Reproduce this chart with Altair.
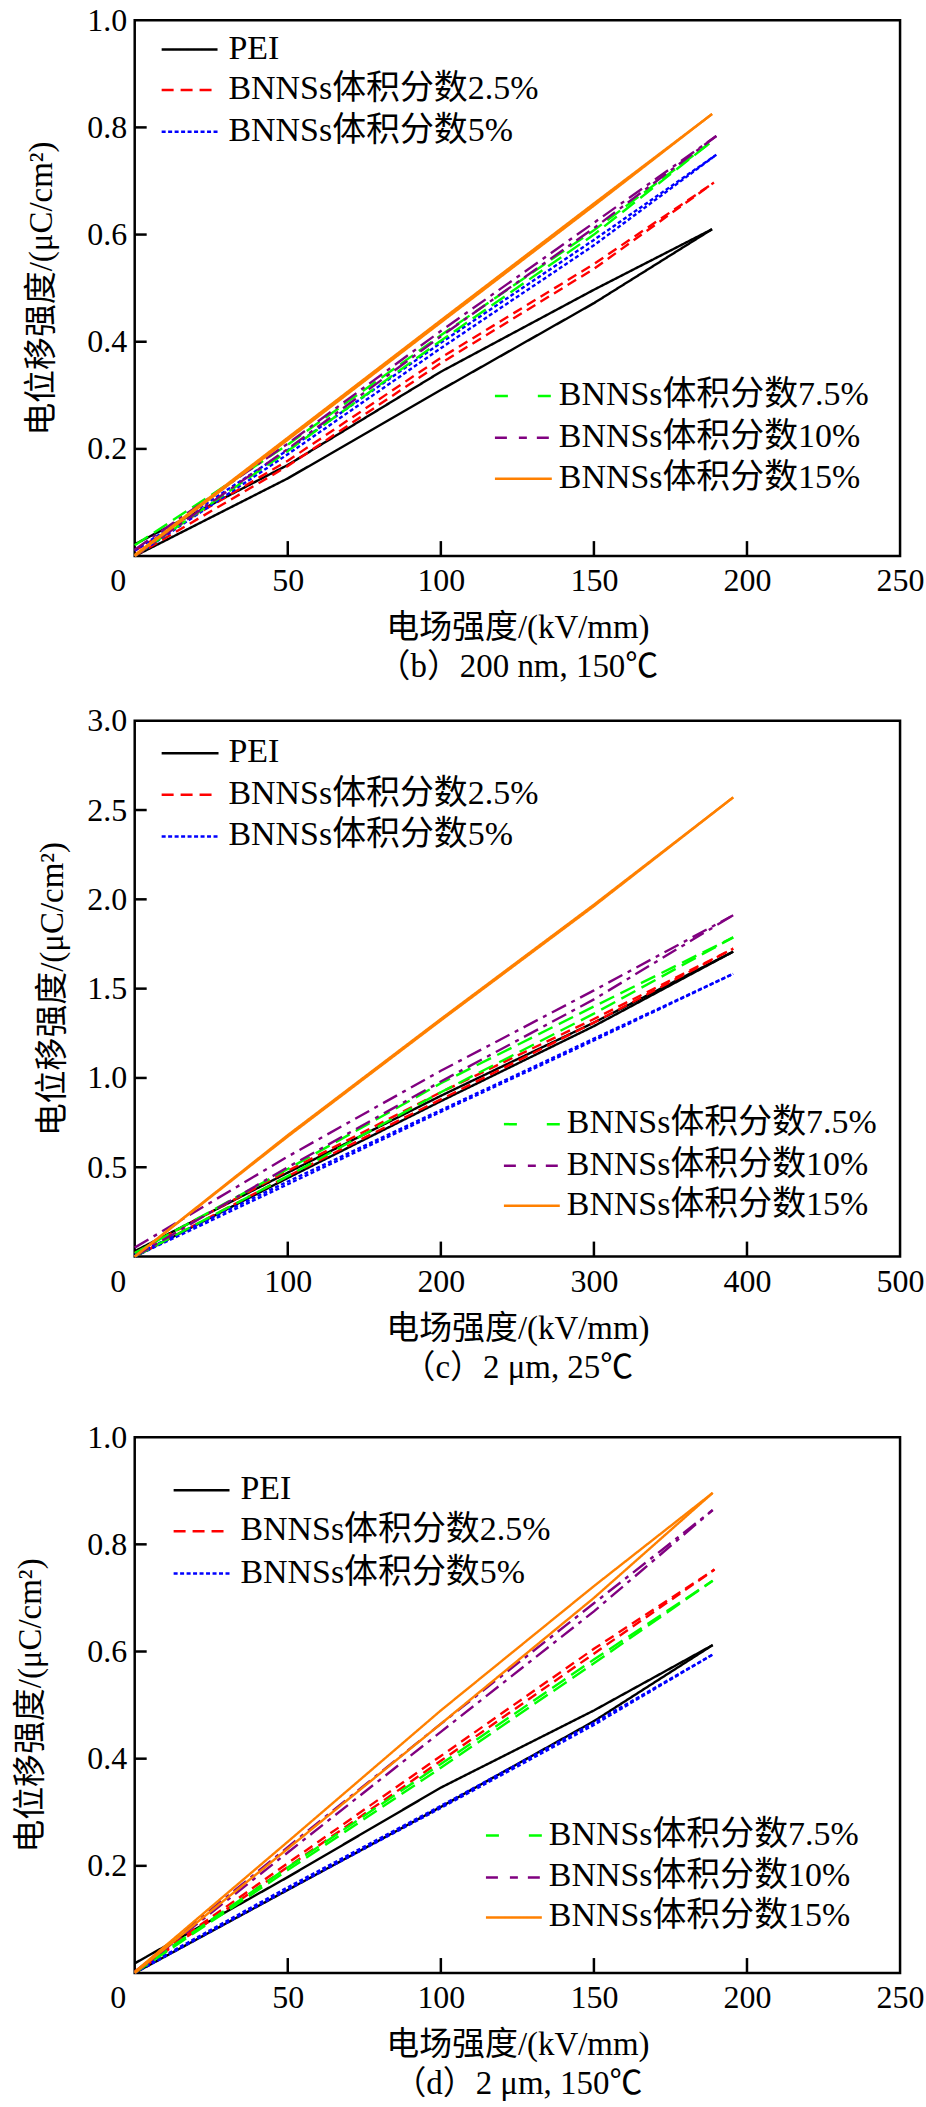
import altair as alt
import pandas as pd

FONT = "Liberation Serif, Noto Sans CJK SC"

SERIES = ["PEI", "BNNSs体积分数2.5%", "BNNSs体积分数5%",
          "BNNSs体积分数7.5%", "BNNSs体积分数10%", "BNNSs体积分数15%"]
COLORS = ["#000000", "#FF0000", "#0000FF", "#00FF00", "#800080", "#FF8000"]
LINE_DASH = [[1, 0], [10, 6], [4, 2.5], [16, 7], [16, 6, 4, 6], [1, 0]]
LEGEND_DASH = [[1, 0], [12, 7], [4, 2.5], [13, 30], [12, 12, 8, 10], [1, 0]]

Y_TITLE = "电位移强度/(μC/cm²)"
X_TITLE = "电场强度/(kV/mm)"

# ---------- panel (b) 200 nm, 150 ℃ ----------
B_CAPTION = "（b）200 nm, 150℃"
B_X_TICKS = [0, 50, 100, 150, 200, 250]
B_Y_TICKS = [0.0, 0.2, 0.4, 0.6, 0.8, 1.0]
B_GRID = [0, 50, 100, 150]
B_EMAX = [188.6, 189.2, 190.0, 187.7, 190.0, 188.6]
B_PEI_UP = [0.022, 0.170, 0.344, 0.497, 0.610]
B_PEI_DN = [0.000, 0.145, 0.310, 0.472, 0.610]
B_25_UP = [0.010, 0.178, 0.370, 0.545, 0.697]
B_25_DN = [0.000, 0.168, 0.360, 0.536, 0.697]
B_5_UP = [0.010, 0.198, 0.398, 0.590, 0.749]
B_5_DN = [0.000, 0.190, 0.388, 0.580, 0.749]
B_75_UP = [0.020, 0.208, 0.412, 0.608, 0.770]
B_75_DN = [0.000, 0.196, 0.402, 0.600, 0.770]
B_10_UP = [0.012, 0.210, 0.420, 0.622, 0.784]
B_10_DN = [0.000, 0.200, 0.410, 0.612, 0.784]
B_15_UP = [0.002, 0.221, 0.440, 0.658, 0.825]
B_15_DN = [0.000, 0.217, 0.436, 0.654, 0.825]

# ---------- panel (c) 2 μm, 25 ℃ ----------
C_CAPTION = "（c）2 μm, 25℃"
C_X_TICKS = [0, 100, 200, 300, 400, 500]
C_Y_TICKS = [0.0, 0.5, 1.0, 1.5, 2.0, 2.5, 3.0]
C_GRID = [0, 100, 200, 300]
C_EMAX = [391, 391, 391, 391, 391, 391]
C_PEI_UP = [0.030, 0.470, 0.900, 1.310, 1.707]
C_PEI_DN = [0.000, 0.440, 0.870, 1.290, 1.707]
C_25_UP = [0.020, 0.480, 0.920, 1.330, 1.724]
C_25_DN = [0.000, 0.450, 0.880, 1.310, 1.724]
C_5_UP = [0.010, 0.420, 0.820, 1.220, 1.583]
C_5_DN = [0.000, 0.405, 0.810, 1.210, 1.583]
C_75_UP = [0.020, 0.490, 0.970, 1.400, 1.787]
C_75_DN = [0.000, 0.450, 0.920, 1.360, 1.787]
C_10_UP = [0.050, 0.560, 1.040, 1.490, 1.911]
C_10_DN = [0.000, 0.500, 0.980, 1.440, 1.911]
C_15_UP = [0.000, 0.680, 1.330, 1.970, 2.571]
C_15_DN = [0.000, 0.672, 1.322, 1.962, 2.571]

# ---------- panel (d) 2 μm, 150 ℃ ----------
D_CAPTION = "（d）2 μm, 150℃"
D_X_TICKS = [0, 50, 100, 150, 200, 250]
D_Y_TICKS = [0.0, 0.2, 0.4, 0.6, 0.8, 1.0]
D_GRID = [0, 50, 100, 150]
D_EMAX = [188.8, 189.4, 189.0, 188.8, 188.8, 188.8]
D_PEI_UP = [0.018, 0.179, 0.346, 0.490, 0.612]
D_PEI_DN = [0.000, 0.155, 0.310, 0.470, 0.612]
D_25_UP = [0.003, 0.205, 0.405, 0.605, 0.753]
D_25_DN = [0.000, 0.198, 0.396, 0.596, 0.753]
D_5_UP = [0.002, 0.160, 0.312, 0.467, 0.595]
D_5_DN = [0.000, 0.156, 0.308, 0.463, 0.595]
D_75_UP = [0.002, 0.197, 0.390, 0.585, 0.732]
D_75_DN = [0.000, 0.192, 0.383, 0.578, 0.732]
D_10_UP = [0.002, 0.235, 0.465, 0.690, 0.864]
D_10_DN = [0.000, 0.225, 0.450, 0.675, 0.864]
D_15_UP = [0.002, 0.245, 0.490, 0.722, 0.896]
D_15_DN = [0.000, 0.232, 0.465, 0.700, 0.896]

# ---------- layout (pixels) ----------
PLOT_W = 767
PLOT_H = 537
# legend layout relative to each plot's top-left corner
# (symbol x-start, symbol x-end, text x, [baselines of 3 rows])
B_LEG1 = (27, 83, 94, [38.4, 79.0, 120.7])
B_LEG2 = (361, 418, 425, [385.7, 427.4, 468.4])
C_LEG1 = (27, 84, 94, [41.7, 83.3, 125.0])
C_LEG2 = (370, 426, 433, [413.3, 455.0, 495.0])
D_LEG1 = (39, 95, 106, [62.3, 103.3, 145.7])
D_LEG2 = (352, 408, 415, [408.3, 450.3, 490.3])


def build_lines(grid, emax, ups, dns):
    rows = []
    for s, em, up, dn in zip(SERIES, emax, ups, dns):
        xs = list(grid) + [em]
        for br, ys in (("up", up), ("dn", dn)):
            for e, d in zip(xs, ys):
                rows.append({"E": e, "D": d, "series": s, "branch": s + br})
    return pd.DataFrame(rows)


def build_legend(leg1, leg2):
    rows = []
    for (x1, x2, tx, bls), names in ((leg1, SERIES[:3]), (leg2, SERIES[3:])):
        for name, bl in zip(names, bls):
            rows.append({"series": name, "lx1": x1, "lx2": x2,
                         "ly": bl - 9, "tx": tx, "ty": bl})
    return pd.DataFrame(rows)


color_scale = alt.Scale(domain=SERIES, range=COLORS)
dash_scale = alt.Scale(domain=SERIES, range=LINE_DASH)
leg_dash_scale = alt.Scale(domain=SERIES, range=LEGEND_DASH)


def panel(df, leg, xdom, xticks, ydom, yticks, caption, ytitle_pad, left, top):
    xs = alt.Scale(domain=xdom, nice=False, zero=False)
    ys = alt.Scale(domain=ydom, nice=False, zero=False)
    xaxis = alt.Axis(values=xticks, format="d", tickSize=0, domain=False, grid=False,
                     labelFont=FONT, labelFontSize=32, labelPadding=10, labelColor="black",
                     labelFlush=False, labelOverlap=False,
                     labelOffset={"condition": {"test": "datum.value === 0", "value": -17}, "value": 0},
                     title=[X_TITLE, caption], titleFont=FONT, titleFontSize=33,
                     titleFontWeight="normal", titleColor="black", titleLineHeight=39,
                     titlePadding=15)
    yaxis = alt.Axis(values=yticks, format=".1f", tickSize=0, domain=False, grid=False,
                     labelExpr="datum.value === 0 ? '' : datum.label",
                     labelFont=FONT, labelFontSize=32, labelPadding=8, labelColor="black",
                     labelFlush=False, labelOverlap=False,
                     title=Y_TITLE, titleFont=FONT, titleFontSize=33,
                     titleFontWeight="normal", titleColor="black", titlePadding=ytitle_pad)

    lines = alt.Chart(df).mark_line(strokeWidth=2.4).encode(
        x=alt.X("E:Q", scale=xs, axis=xaxis),
        y=alt.Y("D:Q", scale=ys, axis=yaxis),
        color=alt.Color("series:N", scale=color_scale, legend=None),
        strokeDash=alt.StrokeDash("series:N", scale=dash_scale, legend=None),
        detail="branch:N",
    )
    xt = alt.Chart(pd.DataFrame({"E": xticks[1:-1]})).mark_rule(
        color="black", strokeWidth=2.5).encode(
        x=alt.X("E:Q", scale=xs, axis=xaxis),
        y=alt.value(PLOT_H), y2=alt.value(PLOT_H - 15))
    yt = alt.Chart(pd.DataFrame({"D": yticks[1:-1]})).mark_rule(
        color="black", strokeWidth=2.5).encode(
        y=alt.Y("D:Q", scale=ys, axis=yaxis),
        x=alt.value(0), x2=alt.value(12))
    leg_rule = alt.Chart(leg).mark_rule(strokeWidth=2.5).encode(
        x=alt.X("lx1:Q", scale=None), x2="lx2:Q",
        y=alt.Y("ly:Q", scale=None),
        color=alt.Color("series:N", scale=color_scale, legend=None),
        strokeDash=alt.StrokeDash("series:N", scale=leg_dash_scale, legend=None),
    )
    leg_text = alt.Chart(leg).mark_text(
        align="left", baseline="alphabetic", font=FONT, fontSize=34, color="black").encode(
        x=alt.X("tx:Q", scale=None), y=alt.Y("ty:Q", scale=None), text="series:N")
    marker = alt.Chart(pd.DataFrame({"m": [0]})).mark_rule(
        stroke="white", strokeOpacity=0, strokeWidth=0.5).encode(
        x=alt.value(-left), x2=alt.value(-left), y=alt.value(-top), y2=alt.value(-top))
    return alt.layer(lines, xt, yt, leg_rule, leg_text, marker).resolve_scale(
        strokeDash="independent").properties(width=PLOT_W, height=PLOT_H)


pb = panel(build_lines(B_GRID, B_EMAX,
                       [B_PEI_UP, B_25_UP, B_5_UP, B_75_UP, B_10_UP, B_15_UP],
                       [B_PEI_DN, B_25_DN, B_5_DN, B_75_DN, B_10_DN, B_15_DN]),
           build_legend(B_LEG1, B_LEG2), [0, 250], B_X_TICKS, [0, 1.0], B_Y_TICKS,
           B_CAPTION, 28, 133, 0)
pc = panel(build_lines(C_GRID, C_EMAX,
                       [C_PEI_UP, C_25_UP, C_5_UP, C_75_UP, C_10_UP, C_15_UP],
                       [C_PEI_DN, C_25_DN, C_5_DN, C_75_DN, C_10_DN, C_15_DN]),
           build_legend(C_LEG1, C_LEG2), [0, 500], C_X_TICKS, [0, 3.0], C_Y_TICKS,
           C_CAPTION, 17, 121, 0)
pd_ = panel(build_lines(D_GRID, D_EMAX,
                        [D_PEI_UP, D_25_UP, D_5_UP, D_75_UP, D_10_UP, D_15_UP],
                        [D_PEI_DN, D_25_DN, D_5_DN, D_75_DN, D_10_DN, D_15_DN]),
            build_legend(D_LEG1, D_LEG2), [0, 250], D_X_TICKS, [0, 1.0], D_Y_TICKS,
            D_CAPTION, 39, 121, 32)

chart = alt.concat(pb, pc, pd_, columns=1, align="none", spacing=17).properties(
    padding=0, background="white"
).configure_view(stroke="black", strokeWidth=2.5)

chart.save("out.html", embed_options={"renderer": "svg", "actions": False})
